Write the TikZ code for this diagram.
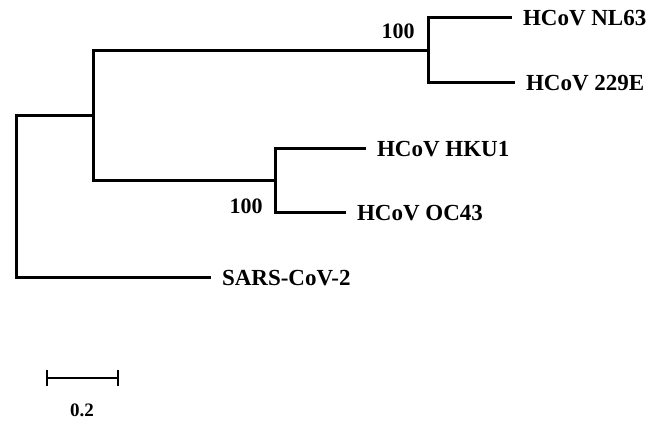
\documentclass[tikz,border=0pt]{standalone}
\usepackage{fontspec}
\setmainfont{Liberation Serif}
\usepackage{tikz}

\begin{document}
\begin{tikzpicture}[x=1pt,y=-1pt,line width=3pt,line join=miter,
	leaf/.style={anchor=west,inner xsep=11pt,inner ysep=0pt,outer sep=0pt,font=\bfseries\fontsize{23}{25}\selectfont},
	boot/.style={inner sep=0pt,font=\bfseries\fontsize{22}{24}\selectfont}]
	\useasboundingbox (0,0) rectangle (649,427);
	% inner nodes of the tree
	\coordinate (root) at (16,197);
	\coordinate (nA) at (93,116);
	\coordinate (nB) at (428,51);
	\coordinate (nC) at (275,181);
	% leaves
	\node[leaf] (nl63) at (512,18) {HCoV NL63};
	\node[leaf] (e229) at (515,83) {HCoV 229E};
	\node[leaf] (hku1) at (366,149) {HCoV HKU1};
	\node[leaf] (oc43) at (346,213) {HCoV OC43};
	\node[leaf] (sars) at (211,278) {SARS-CoV-2};
	% branches
	\draw (root) |- (nA);
	\draw (root) |- (sars);
	\draw (nA) |- (nB);
	\draw (nA) |- (nC);
	\draw (nB) |- (nl63);
	\draw (nB) |- (e229);
	\draw (nC) |- (hku1);
	\draw (nC) |- (oc43);
	% bootstrap values
	\node[boot] (bB) at (398,31) {100};
	\node[boot] (bC) at (246,206) {100};
	% scale bar
	\coordinate (sbL) at (47,378);
	\coordinate (sbR) at (118,378);
	\draw[line width=2.8pt] (sbL) -- (sbR);
	\draw[line width=2.8pt] ([yshift=-8pt]sbL) -- ([yshift=8pt]sbL);
	\draw[line width=2.8pt] ([yshift=-8pt]sbR) -- ([yshift=8pt]sbR);
	\node[boot,font=\bfseries\fontsize{19}{21}\selectfont] (sbl) at (82,410) {0.2};
\end{tikzpicture}
\end{document}
